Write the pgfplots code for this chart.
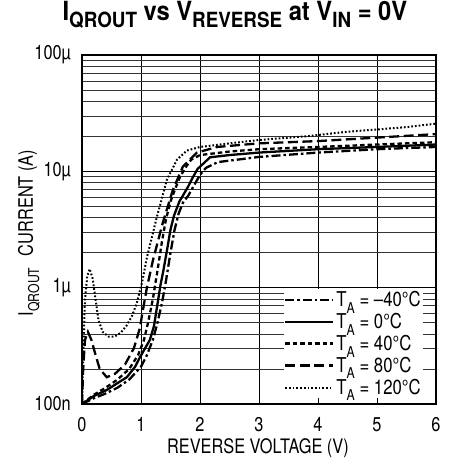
\documentclass[border=0pt]{standalone}
\usepackage{pgfplots}
\pgfplotsset{compat=1.18}
\usepackage{fontspec}
\setmainfont{TeX Gyre Heros}[FakeStretch=0.82]
\newfontfamily\titlefont{TeX Gyre Heros}[FakeStretch=0.9]
\newcommand\lsub[1]{\raisebox{-0.32em}{\fontsize{15}{15}\selectfont #1}}
\newcommand\hsub[1]{\raisebox{-0.26em}{\fontsize{21}{22}\selectfont #1}}
\begin{document}
\begin{tikzpicture}[x=1bp,y=1bp]
\useasboundingbox (0,0) rectangle (450,465);
\begin{axis}[
  at={(82bp,61bp)}, anchor=south west,
  scale only axis, width=354bp, height=349bp,
  xmin=0, xmax=6, ymin=1e-7, ymax=1e-4, ymode=log,
  xtick={0,1,2,3,4,5,6}, xticklabels={0,1,2,3,4,5,6},
  minor x tick num=0,
  ytick={1e-7,1e-6,1e-5,1e-4}, yticklabels={100n,1µ,10µ,100µ},
  xmajorgrids, ymajorgrids, yminorgrids,
  major grid style={black, line width=0.7pt},
  minor grid style={black!80, line width=0.55pt},
  major tick length=0pt, minor tick length=0pt,
  axis line style={line width=1.4pt},
  tick label style={font=\fontsize{20}{22}\selectfont},
  xticklabel style={anchor=base, yshift=-27bp},
  yticklabel style={anchor=east, inner sep=0pt, xshift=-11bp},
  xlabel={REVERSE VOLTAGE (V)},
  xlabel style={at={(axis description cs:0.497,-0.143)}, anchor=base, font=\fontsize{20}{22}\selectfont},
  ylabel={I\lsub{QROUT}\hspace{0.35em} CURRENT (A)},
  ylabel style={at={(axis description cs:-0.15,0.49)}, anchor=center, font=\fontsize{20}{22}\selectfont},
  title={\titlefont\bfseries I\hsub{QROUT} vs V\hsub{REVERSE} at V\hsub{IN} = 0V},
  title style={at={(axis description cs:0.432,1.082)}, anchor=base, font=\fontsize{26.5}{28}\selectfont},
  legend style={at={(0.963,0.017)}, anchor=south east, draw=none, fill=white,
    font=\fontsize{20.5}{22}\selectfont, inner sep=0bp, row sep=1.2bp,
    /tikz/every even column/.append style={column sep=0bp}},
  legend cell align=left,
  legend image code/.code={\draw[#1] (0bp,0bp) -- (48bp,0bp);},
  every axis plot/.append style={line width=2.3bp, black},
]
% T_A = -40C
\addplot[dash pattern=on 9bp off 3bp on 2.5bp off 3bp] coordinates {
(0,1.00e-7) (0.2,1.12e-7) (0.4,1.23e-7) (0.6,1.38e-7) (0.8,1.62e-7) (1.0,2.09e-7)
(1.1,2.63e-7) (1.2,3.55e-7) (1.28,5.01e-7) (1.36,7.59e-7) (1.42,1.12e-6) (1.5,2.00e-6)
(1.57,3.16e-6) (1.64,4.37e-6) (1.71,5.37e-6) (1.8,6.17e-6) (1.9,7.59e-6) (2.0,9.33e-6)
(2.1,1.07e-5) (2.3,1.20e-5) (3.0,1.33e-5) (4.0,1.45e-5) (5.0,1.55e-5) (6.0,1.62e-5)};
\addlegendentry{T\lsub{A} = –40°C}
% T_A = 0C
\addplot[solid] coordinates {
(0,1.00e-7) (0.2,1.17e-7) (0.42,1.32e-7) (0.6,1.51e-7) (0.76,1.70e-7) (0.9,2.09e-7)
(0.98,2.51e-7) (1.07,3.02e-7) (1.15,3.55e-7) (1.22,4.68e-7) (1.27,6.76e-7) (1.33,1.05e-6)
(1.38,1.41e-6) (1.44,2.09e-6) (1.5,3.16e-6) (1.56,4.17e-6) (1.65,5.50e-6) (1.72,6.31e-6)
(1.8,7.41e-6) (1.88,8.91e-6) (1.96,1.05e-5) (2.06,1.17e-5) (2.17,1.32e-5) (2.5,1.38e-5)
(3.0,1.45e-5) (4.0,1.55e-5) (5.0,1.62e-5) (6.0,1.70e-5)};
\addlegendentry{T\lsub{A} = 0°C}
% T_A = 40C
\addplot[dash pattern=on 4.5bp off 3bp] coordinates {
(0,1.00e-7) (0.2,1.20e-7) (0.4,1.38e-7) (0.6,1.62e-7) (0.8,2.00e-7) (0.95,2.63e-7)
(1.05,3.55e-7) (1.12,5.01e-7) (1.2,7.94e-7) (1.28,1.41e-6) (1.35,2.40e-6) (1.42,3.80e-6)
(1.5,5.50e-6) (1.58,7.08e-6) (1.66,8.91e-6) (1.75,1.07e-5) (1.85,1.26e-5) (2.0,1.38e-5)
(2.5,1.48e-5) (3.0,1.55e-5) (4.0,1.62e-5) (5.0,1.70e-5) (6.0,1.78e-5)};
\addlegendentry{T\lsub{A} = 40°C}
% T_A = 80C
\addplot[dash pattern=on 10bp off 4.5bp] coordinates {
(0,1.00e-7) (0.02,2.00e-7) (0.05,3.55e-7) (0.1,4.17e-7) (0.16,3.55e-7) (0.22,2.75e-7)
(0.3,2.00e-7) (0.42,1.70e-7) (0.56,1.82e-7) (0.73,2.19e-7) (0.88,3.02e-7) (0.98,4.47e-7)
(1.03,6.31e-7) (1.1,1.00e-6) (1.2,1.70e-6) (1.37,3.63e-6) (1.54,6.92e-6) (1.71,1.10e-5)
(1.95,1.45e-5) (2.29,1.62e-5) (3.0,1.74e-5) (4.0,1.82e-5) (5.0,1.95e-5) (6.0,2.09e-5)};
\addlegendentry{T\lsub{A} = 80°C}
% T_A = 120C
\addplot[line width=2bp, dash pattern=on 1.7bp off 2bp] coordinates {
(0,1.00e-7) (0.02,2.51e-7) (0.05,7.94e-7) (0.09,1.26e-6) (0.13,1.45e-6) (0.18,1.20e-6)
(0.23,7.94e-7) (0.28,5.25e-7) (0.35,4.17e-7) (0.45,3.80e-7) (0.55,3.80e-7) (0.65,4.07e-7)
(0.75,4.68e-7) (0.85,5.75e-7) (0.93,7.41e-7) (1.02,1.12e-6) (1.1,1.82e-6) (1.27,4.07e-6)
(1.44,8.51e-6) (1.61,1.26e-5) (1.78,1.51e-5) (2.0,1.62e-5) (2.5,1.74e-5) (3.0,1.86e-5)
(3.8,2.00e-5) (4.5,2.19e-5) (5.0,2.29e-5) (5.5,2.40e-5) (6.0,2.57e-5)};
\addlegendentry{T\lsub{A} = 120°C}
\end{axis}
\end{tikzpicture}
\end{document}
